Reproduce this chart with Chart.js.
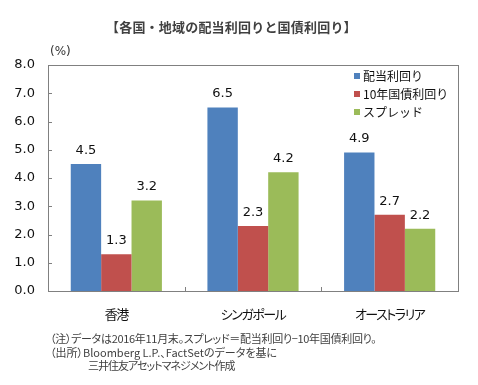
<!DOCTYPE html>
<html>
<head>
<meta charset="utf-8">
<script src="https://cdn.jsdelivr.net/npm/chart.js@4/dist/chart.umd.min.js"></script>
<style>
  body { margin: 0; background: #fff; }
  #wrap { position: relative; width: 478px; height: 385px; overflow: hidden; }
  canvas { position: absolute; left: 0; top: 0; }
  .txt { position: absolute; font-family: "Noto Sans CJK JP", sans-serif; color: #333; white-space: nowrap; }
  #title { left: 106px; top: 17px; font-size: 13px; font-weight: bold; color: #404040; letter-spacing: 0.2px; }
  #unit { left: 50px; top: 44px; font-size: 12px; font-family: "DejaVu Sans", sans-serif; }
  #notes { left: 50px; top: 332px; font-size: 11px; line-height: 13.5px; color: #404040; font-feature-settings: "palt"; }
  #notes .l1 { letter-spacing: -0.3px; }
  #notes .ind { padding-left: 38px; letter-spacing: -1px; }
  .xlab { position: absolute; font-family: "Noto Sans CJK JP", sans-serif; font-size: 13px; color: #111;
          white-space: nowrap; transform: translate(-50%, -50%); font-feature-settings: "palt"; letter-spacing: -1.5px; }
</style>
</head>
<body>
<div id="wrap">
  <canvas id="chart" width="478" height="385"></canvas>
  <div class="txt" id="title">【各国・地域の配当利回りと国債利回り】</div>
  <div class="txt" id="unit">(%)</div>
  <div class="txt" id="notes"><span class="l1">（注）データは2016年11月末。スプレッド＝配当利回り−10年国債利回り。</span><br>（出所）Bloomberg L.P.、FactSetのデータを基に<br><span class="ind">三井住友アセットマネジメント作成</span></div>
</div>
<script>
const categories = ['香港', 'シンガポール', 'オーストラリア'];
const seriesNames = ['配当利回り', '10年国債利回り', 'スプレッド'];
const dividendYield = [4.5, 6.5, 4.9];
const bondYield = [1.3, 2.3, 2.7];
const spread = [3.2, 4.2, 2.2];
const yTicks = [0, 1, 2, 3, 4, 5, 6, 7, 8];
const colors = ['#4F81BD', '#C0504D', '#9BBB59'];

const numFont = '13px "DejaVu Sans", sans-serif';
const wrap = document.getElementById('wrap');

const decorations = {
  id: 'decorations',
  afterDraw(chart) {
    const ctx = chart.ctx;
    const a = chart.chartArea;
    const y = chart.scales.y;
    const x = chart.scales.x;
    ctx.save();
    // frame
    ctx.strokeStyle = '#808080';
    ctx.lineWidth = 1;
    ctx.strokeRect(Math.round(a.left) + 0.5, Math.round(a.top) + 0.5,
      Math.round(a.right - a.left), Math.round(a.bottom - a.top));
    // inner y ticks
    ctx.beginPath();
    yTicks.forEach(v => {
      const py = Math.round(y.getPixelForValue(v)) + 0.5;
      ctx.moveTo(a.left, py);
      ctx.lineTo(a.left + 4, py);
    });
    // inner x ticks between categories
    for (let i = 1; i < categories.length; i++) {
      const px = Math.round((x.getPixelForValue(i - 1) + x.getPixelForValue(i)) / 2) + 0.5;
      ctx.moveTo(px, a.bottom);
      ctx.lineTo(px, a.bottom - 4);
    }
    ctx.stroke();
    // value labels
    ctx.fillStyle = '#111';
    ctx.font = numFont;
    ctx.textAlign = 'center';
    ctx.textBaseline = 'bottom';
    chart.data.datasets.forEach((ds, di) => {
      chart.getDatasetMeta(di).data.forEach((bar, i) => {
        ctx.fillText(ds.data[i].toFixed(1), bar.x, bar.y - 7);
      });
    });
    // legend
    ctx.font = '12px "Noto Sans CJK JP", sans-serif';
    ctx.textAlign = 'left';
    ctx.textBaseline = 'middle';
    chart.data.datasets.forEach((ds, di) => {
      const cy = 76 + di * 18;
      ctx.fillStyle = ds.backgroundColor;
      ctx.fillRect(354, cy - 3, 6, 6);
      ctx.fillStyle = '#111';
      ctx.fillText(ds.label, 363, cy);
    });
    ctx.restore();
    // category labels (HTML, for proportional kana), placed by the x scale
    wrap.querySelectorAll('.xlab').forEach(el => el.remove());
    chart.data.labels.forEach((lab, i) => {
      const el = document.createElement('div');
      el.className = 'xlab';
      el.textContent = lab;
      el.style.left = x.getPixelForValue(i) + 'px';
      el.style.top = (a.bottom + 22) + 'px';
      wrap.appendChild(el);
    });
  }
};

new Chart(document.getElementById('chart'), {
  type: 'bar',
  data: {
    labels: categories,
    datasets: [
      { label: seriesNames[0], data: dividendYield, backgroundColor: colors[0] },
      { label: seriesNames[1], data: bondYield, backgroundColor: colors[1] },
      { label: seriesNames[2], data: spread, backgroundColor: colors[2] }
    ]
  },
  options: {
    responsive: false,
    animation: false,
    layout: { padding: { top: 65, right: 20, left: 0, bottom: 0 } },
    datasets: { bar: { categoryPercentage: 0.667, barPercentage: 1 } },
    plugins: { legend: { display: false }, tooltip: { enabled: false } },
    scales: {
      x: {
        grid: { display: false, drawTicks: false },
        border: { display: false },
        ticks: { display: false },
        afterFit(scale) { scale.height = 94; }
      },
      y: {
        min: 0,
        max: 8,
        afterBuildTicks(scale) { scale.ticks = yTicks.map(v => ({ value: v })); },
        grid: { display: false, drawTicks: false },
        border: { display: false },
        ticks: {
          padding: 13,
          color: '#111',
          font: { family: '"DejaVu Sans", sans-serif', size: 13 },
          callback: v => v.toFixed(1)
        },
        afterFit(scale) { scale.width = 48; }
      }
    }
  },
  plugins: [decorations]
});
</script>
</body>
</html>
